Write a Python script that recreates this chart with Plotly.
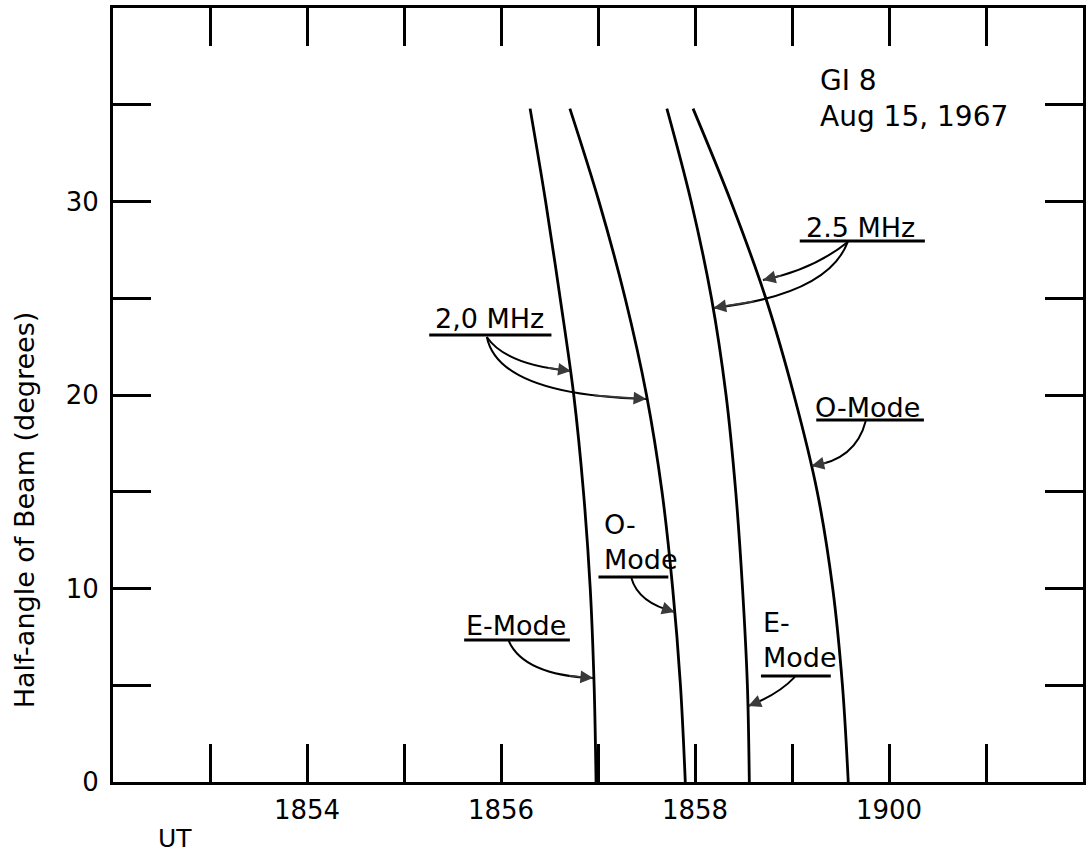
import plotly.graph_objects as go

# ---------------- data ----------------
# UT expressed as minutes after 18:00 (60 -> 19:00)
beam_deg = [34.8, 30, 25, 20, 15, 10, 5, 0]
e_mode_20_ut = [56.30, 56.46, 56.61, 56.75, 56.85, 56.92, 56.96, 56.98]
o_mode_20_ut = [56.71, 57.01, 57.28, 57.50, 57.66, 57.77, 57.85, 57.90]
e_mode_25_ut = [57.71, 57.96, 58.17, 58.32, 58.42, 58.49, 58.54, 58.56]
o_mode_25_ut = [57.98, 58.37, 58.73, 59.02, 59.26, 59.42, 59.52, 59.58]

x_tick_vals = [53, 54, 55, 56, 57, 58, 59, 60, 61]
x_tick_text = ["", "1854", "", "1856", "", "1858", "", "1900", ""]
y_tick_vals = [0, 5, 10, 15, 20, 25, 30, 35]
y_tick_text = ["0", "", "10", "", "20", "", "30", ""]

FONT = "DejaVu Sans"
INK = "black"

fig = go.Figure()
for ut in (e_mode_20_ut, o_mode_20_ut, e_mode_25_ut, o_mode_25_ut):
    fig.add_trace(go.Scatter(x=ut, y=beam_deg, mode="lines",
                             line=dict(color=INK, width=2.8, shape="spline", smoothing=1.0),
                             hoverinfo="skip"))


def label(text, x, y, xanchor="center", size=27):
    fig.add_annotation(x=x, y=y, xref="x", yref="y", text=text, showarrow=False,
                       xanchor=xanchor, yanchor="middle", align="left",
                       font=dict(family=FONT, size=size, color=INK))


def underline(x0, x1, y):
    fig.add_shape(type="line", xref="x", yref="y", x0=x0, x1=x1, y0=y, y1=y,
                  line=dict(color=INK, width=3))


def pointer(p0, c, p2):
    path = f"M {p0[0]},{p0[1]} Q {c[0]},{c[1]} {p2[0]},{p2[1]}"
    fig.add_shape(type="path", path=path, xref="x", yref="y",
                  line=dict(color=INK, width=2))
    s = 0.8
    tx = (1 - s) ** 2 * p0[0] + 2 * (1 - s) * s * c[0] + s * s * p2[0]
    ty = (1 - s) ** 2 * p0[1] + 2 * (1 - s) * s * c[1] + s * s * p2[1]
    fig.add_annotation(x=p2[0], y=p2[1], ax=tx, ay=ty, xref="x", yref="y",
                       axref="x", ayref="y", text="", showarrow=True,
                       arrowhead=2, arrowsize=1.5, arrowwidth=1.7,
                       arrowcolor="#3a3a3a", standoff=0)


# 2.0 MHz label
label("2,0 MHz", 55.885, 23.93)
underline(55.26, 56.52, 23.10)
pointer((55.854, 23.0), (56.049, 21.55), (56.72, 21.24))
pointer((55.854, 23.0), (55.977, 20.0), (57.498, 19.79))

# 2.5 MHz label
label("2.5 MHz", 59.708, 28.68)
underline(59.08, 60.37, 27.96)
pointer((59.575, 27.91), (59.215, 26.46), (58.70, 25.94))
pointer((59.575, 27.91), (59.369, 25.17), (58.19, 24.50))

# O-Mode (2.5 MHz)
label("O-Mode", 59.78, 19.38)
underline(59.25, 60.36, 18.71)
pointer((59.76, 18.66), (59.657, 16.64), (59.20, 16.33))

# O-Mode (2.0 MHz)
label("O-<br>Mode", 57.04, 12.4, xanchor="left")
underline(57.005, 57.725, 10.59)
pointer((57.344, 10.54), (57.416, 9.25), (57.79, 8.79))

# E-Mode (2.0 MHz)
label("E-Mode", 56.152, 8.11)
underline(55.62, 56.71, 7.34)
pointer((56.08, 7.29), (56.234, 5.53), (56.95, 5.37))

# E-Mode (2.5 MHz)
label("E-<br>Mode", 58.68, 7.35, xanchor="left")
underline(58.68, 59.40, 5.48)
pointer((59.03, 5.43), (58.855, 4.50), (58.55, 3.93))

# satellite / date
fig.add_annotation(x=59.266, y=35.32, xref="x", yref="y",
                   text="GI 8<br>Aug 15, 1967", showarrow=False,
                   xanchor="left", yanchor="middle", align="left",
                   font=dict(family=FONT, size=28, color=INK))

# axis titles
fig.add_annotation(x=-0.0915, y=0.3514, xref="paper", yref="paper",
                   text="Half-angle of Beam (degrees)", textangle=-90,
                   showarrow=False, xanchor="center", yanchor="middle",
                   font=dict(family=FONT, size=27, color=INK))
fig.add_annotation(x=0.0637, y=-0.0724, xref="paper", yref="paper",
                   text="UT", showarrow=False, xanchor="center", yanchor="middle",
                   font=dict(family=FONT, size=25, color=INK))

axis_common = dict(ticks="inside", ticklen=38, tickwidth=2.5, tickcolor=INK,
                   showline=True, linewidth=3, linecolor=INK, mirror="ticks",
                   showgrid=False, zeroline=False,
                   tickfont=dict(family=FONT, size=26, color=INK))

fig.update_xaxes(range=[52, 62], tickmode="array", tickvals=x_tick_vals,
                 ticktext=x_tick_text, ticklabelstandoff=3, **axis_common)
fig.update_yaxes(range=[0, 40], tickmode="array", tickvals=y_tick_vals,
                 ticktext=y_tick_text, ticklabelstandoff=6, **axis_common)

fig.update_layout(width=1088, height=854,
                  margin=dict(l=113, r=2, t=8, b=72),
                  plot_bgcolor="white", paper_bgcolor="white",
                  showlegend=False,
                  font=dict(family=FONT, color=INK))

fig.write_html("out.html")
